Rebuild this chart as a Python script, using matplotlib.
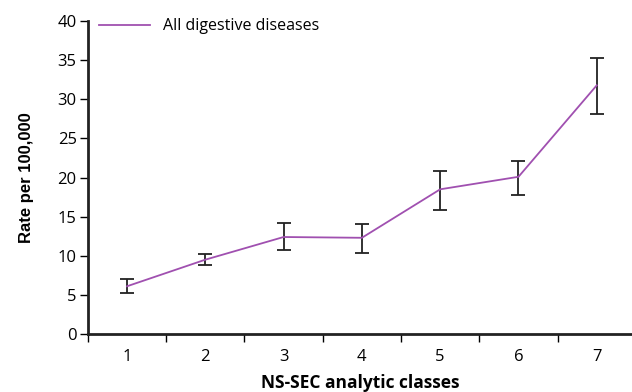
import numpy as np
import matplotlib
matplotlib.use('Agg')
import matplotlib.pyplot as plt

plt.rcParams['font.family'] = ['Open Sans', 'DejaVu Sans']

# Datos
clases = [1, 2, 3, 4, 5, 6, 7]
tasa = [6.1, 9.5, 12.4, 12.3, 18.5, 20.1, 31.8]
ic_sup = [7.0, 10.2, 14.2, 14.1, 20.9, 22.1, 35.3]
ic_inf = [5.2, 8.8, 10.7, 10.4, 15.8, 17.8, 28.1]

x = np.array(clases)
y = np.array(tasa)
err = [y - np.array(ic_inf), np.array(ic_sup) - y]

fig = plt.figure(figsize=(6.32, 3.92), dpi=100)
ax = fig.add_axes([0.139, 0.148, 0.861, 0.798])

ax.errorbar(x, y, yerr=err, fmt='none', ecolor='#222222', elinewidth=1.3,
            capsize=5, capthick=1.3, zorder=2)
ax.plot(x, y, color='#a050b0', linewidth=1.3, label='All digestive diseases', zorder=3)

ax.set_xlim(0.5, 7.45)
ax.set_ylim(0, 40)
ax.set_yticks(np.arange(0, 41, 5))
ax.set_xticks(x)
ax.set_xticks(np.arange(0.5, 7, 1), minor=True)
ax.tick_params(axis='x', which='major', length=0, pad=11, labelsize=12)
ax.tick_params(axis='x', which='minor', length=6, width=1, direction='out')
ax.tick_params(axis='y', length=6, width=1, labelsize=12, pad=2)

for s in ['top', 'right']:
    ax.spines[s].set_visible(False)
for s in ['left', 'bottom']:
    ax.spines[s].set_linewidth(2)
    ax.spines[s].set_color('#222222')

ax.set_xlabel('NS-SEC analytic classes', fontweight='bold', fontsize=12.5, labelpad=6)
ax.set_ylabel('Rate per 100,000', fontweight='bold', fontsize=12,
              family=['Liberation Sans', 'DejaVu Sans'], labelpad=17)

ax.legend(loc='upper left', frameon=False, fontsize=11.5, handlelength=3.2,
          bbox_to_anchor=(0.0, 1.045), borderaxespad=0.3)

fig.savefig('out.png', dpi=100)
